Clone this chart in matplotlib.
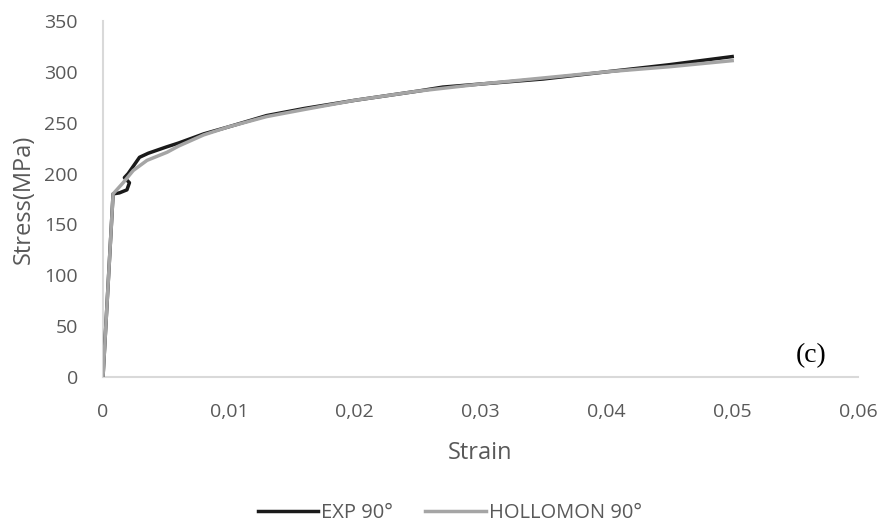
import matplotlib.pyplot as plt

plt.rcParams['font.family'] = ['Open Sans', 'DejaVu Sans']

# EXP 90 deg
exp_strain = [0, 0.0008, 0.0013, 0.0019, 0.0021, 0.0017, 0.0020, 0.0029, 0.0036,
              0.005, 0.006, 0.008, 0.010, 0.013, 0.016, 0.020, 0.025, 0.027,
              0.030, 0.035, 0.040, 0.045, 0.050]
exp_stress = [0, 180, 181, 184, 191, 196, 200, 216, 220,
              226, 230, 239, 246, 257, 264, 272, 281, 285,
              288, 293, 300, 307, 315]

# HOLLOMON 90 deg
hol_strain = [0, 0.0008, 0.0016, 0.0024, 0.0035, 0.0051, 0.006, 0.008, 0.010,
              0.013, 0.016, 0.020, 0.025, 0.030, 0.035, 0.040, 0.045, 0.050]
hol_stress = [0, 180, 191, 203, 213, 221, 227, 238, 246,
              256, 263, 272, 281, 288, 294, 300, 305, 311]

xticks = [0, 0.01, 0.02, 0.03, 0.04, 0.05, 0.06]
xlabels = ['0', '0,01', '0,02', '0,03', '0,04', '0,05', '0,06']
yticks = [0, 50, 100, 150, 200, 250, 300, 350]

fig = plt.figure(figsize=(8.82, 5.27), dpi=100)
ax = fig.add_axes([0.1168, 0.2846, 0.856, 0.6756])

ax.plot(exp_strain, exp_stress, color='#1a1a1a', lw=2.5, label='EXP 90°', zorder=3)
ax.plot(hol_strain, hol_stress, color='#a5a5a5', lw=2.5, label='HOLLOMON 90°', zorder=4)

ax.set_xlim(0, 0.06)
ax.set_ylim(0, 350)
ax.set_xticks(xticks)
ax.set_xticklabels(xlabels)
ax.set_yticks(yticks)
ax.tick_params(axis='y', length=0, labelsize=14, colors='#595959', pad=18)
ax.tick_params(axis='x', length=0, labelsize=14, colors='#595959', pad=19)

for s in ['top', 'right']:
    ax.spines[s].set_visible(False)
for s in ['left', 'bottom']:
    ax.spines[s].set_color('#d9d9d9')
    ax.spines[s].set_linewidth(1.5)

ax.set_xlabel('Strain', fontsize=17, color='#595959', labelpad=14)
ax.set_ylabel('Stress(MPa)', fontsize=17, color='#595959', labelpad=6)

ax.text(0.0563, 21, '(c)', fontsize=20, family='Liberation Serif',
        ha='center', va='center')

fig.legend(loc='center', bbox_to_anchor=(0.51, 0.026), ncol=2, frameon=False,
           fontsize=14.5, labelcolor='#595959', handlelength=3.0, columnspacing=1.6,
           handletextpad=0.15)

fig.savefig('out.png', dpi=100)
